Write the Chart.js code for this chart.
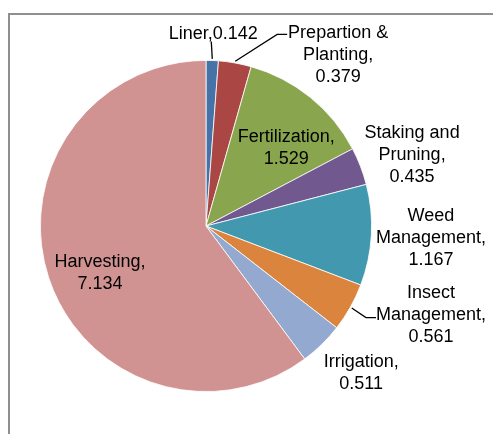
<!DOCTYPE html>
<html>
<head>
<meta charset="utf-8">
<script src="https://cdn.jsdelivr.net/npm/chart.js@4/dist/chart.umd.min.js"></script>
<style>
    html, body { margin: 0; padding: 0; background: #fff; }
    #wrap { position: relative; width: 493px; height: 434px; overflow: hidden; }
    #frame { position: absolute; left: 8px; top: 13px; width: 600px; height: 600px; border: 2px solid #8f8f8f; box-sizing: border-box; }
    #chart { position: absolute; left: 0; top: 0; }
</style>
</head>
<body>
<div id="wrap">
    <div id="frame"></div>
    <canvas id="chart" width="493" height="434"></canvas>
</div>
<script>
// Cost shares per production activity
const categories = ['Liner', 'Prepartion & Planting', 'Fertilization', 'Staking and Pruning',
    'Weed Management', 'Insect Management', 'Irrigation', 'Harvesting'];
const values = [0.142, 0.379, 1.529, 0.435, 1.167, 0.561, 0.511, 7.134];
const colors = ['#4572a7', '#aa4643', '#89a54e', '#71588f', '#4198af', '#db843d', '#93a9cf', '#d19392'];

// How each label is broken into lines
const labelLines = [
    ['Liner'],
    ['Prepartion &', 'Planting'],
    ['Fertilization'],
    ['Staking and', 'Pruning'],
    ['Weed', 'Management'],
    ['Insect', 'Management'],
    ['Irrigation'],
    ['Harvesting']
];

// Label placement: angle shift from slice middle (deg), distance as share of radius,
// optional leader line (elbow offset from label centre)
const labelLayout = [
    { shift: 0, k: 1.163, inline: true, leader: { ex: -2, ey: 8, hx: 0 } },
    { shift: 27.7, k: 1.303, leader: { ex: -61, ey: -21, hx: 10 } },
    { shift: 6.9, k: 0.675 },
    { shift: 2.2, k: 1.316 },
    { shift: -0.2, k: 1.36 },
    { shift: -7.9, k: 1.46, leader: { ex: -65, ey: 3, hx: 10 } },
    { shift: -2.3, k: 1.289 },
    { shift: -5.5, k: 0.70 }
];

const sliceLabels = {
    id: 'sliceLabels',
    afterDatasetsDraw(chart) {
        const ctx = chart.ctx;
        const meta = chart.getDatasetMeta(0);
        const lineH = 22;
        ctx.save();
        ctx.font = '18px "Liberation Sans", Arial, sans-serif';
        ctx.fillStyle = '#000';
        ctx.textAlign = 'center';
        ctx.textBaseline = 'middle';
        meta.data.forEach((arc, i) => {
            const lay = labelLayout[i];
            const mid = (arc.startAngle + arc.endAngle) / 2;
            const ang = mid + lay.shift * Math.PI / 180;
            const r = arc.outerRadius;
            const cx = arc.x + Math.cos(ang) * r * lay.k;
            const cy = arc.y + Math.sin(ang) * r * lay.k;

            let lines;
            if (lay.inline) {
                lines = [labelLines[i].join(' ') + ',' + values[i]];
            } else {
                lines = labelLines[i].slice();
                lines[lines.length - 1] += ',';
                lines.push(String(values[i]));
            }
            const top = cy - (lines.length - 1) * lineH / 2;
            lines.forEach((t, j) => ctx.fillText(t, cx, top + j * lineH));

            if (lay.leader) {
                const sx = arc.x + Math.cos(mid) * r * 1.01;
                const sy = arc.y + Math.sin(mid) * r * 1.01;
                const ex = cx + lay.leader.ex;
                const ey = cy + lay.leader.ey;
                ctx.beginPath();
                ctx.strokeStyle = '#000';
                ctx.lineWidth = 1.3;
                ctx.moveTo(sx, sy);
                ctx.lineTo(ex, ey);
                ctx.lineTo(ex + lay.leader.hx, ey);
                ctx.stroke();
            }
        });
        ctx.restore();
    }
};

new Chart(document.getElementById('chart'), {
    type: 'pie',
    data: {
        labels: categories,
        datasets: [{
            data: values,
            backgroundColor: colors,
            borderColor: '#ffffff',
            borderWidth: 0.8
        }]
    },
    options: {
        responsive: false,
        animation: false,
        layout: {
            padding: { left: 40, right: 121, top: 60, bottom: 42 }
        },
        plugins: {
            legend: { display: false },
            tooltip: { enabled: false }
        }
    },
    plugins: [sliceLabels]
});
</script>
</body>
</html>
